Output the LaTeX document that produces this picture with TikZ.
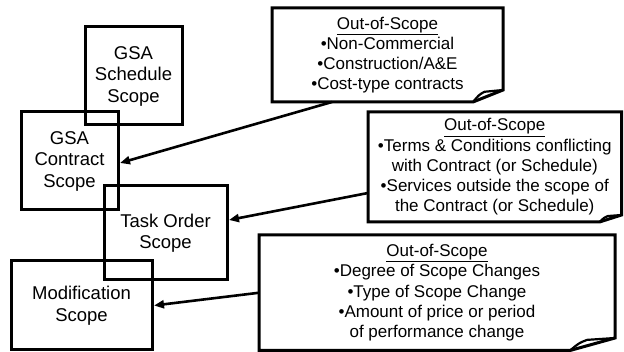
\documentclass[tikz,border=0pt]{standalone}
\usepackage{fontspec}
\setmainfont{Liberation Sans}
\usetikzlibrary{calc,arrows.meta}
\tikzset{
  scopebox/.style={draw, line width=3pt, inner sep=0pt, outer sep=0pt, align=center,
    font=\fontsize{18.5}{21.5}\selectfont},
  calloutbox/.style={inner sep=0pt, outer sep=0pt, align=center,
    font=\fontsize{17}{20.2}\selectfont},
  frame/.style={line width=3pt, line join=miter},
  flap/.style={line width=2.2pt},
  link/.style={line width=2.6pt, -{Triangle[length=10pt,width=8pt]}}
}
\newcommand\foldbox[3]{%
  \draw[frame] (#1.north west) -- (#1.north east) -- ($(#1.south east)+(0,-#3)$)
    -- ($(#1.south east)+(-#2,0)$) -- (#1.south west) -- cycle;
  \draw[flap] ($(#1.south east)+(-#2,0)$) .. controls ($(#1.south east)+({-0.8*#2},{-0.6*#3})$)
    .. ($(#1.south east)+({-0.62*#2},{-0.85*#3})$) -- ($(#1.south east)+(0,-#3)$);
}
\begin{document}
\begin{tikzpicture}[x=1pt,y=-1pt]
\useasboundingbox (0,0) rectangle (624,352);
% scope boxes
\node[scopebox, minimum width=97pt, minimum height=98pt] (sched) at (133.5,76) {GSA\\Schedule\\Scope};
\node[scopebox, minimum width=97pt, minimum height=98pt] (contract) at (69.5,161) {GSA\\Contract\\Scope};
\node[scopebox, minimum width=123pt, minimum height=94pt] (task) at (165.5,233) {Task Order\\Scope};
\node[scopebox, minimum width=141pt, minimum height=89pt] (modif) at (81.5,305.5) {Modification\\Scope};
% callouts
\node[calloutbox, minimum width=231pt, minimum height=94pt] (c1) at (387.5,55)
  {\underline{Out-of-Scope}\\•Non-Commercial\\•Construction/A\&E\\•Cost-type contracts};
\node[calloutbox, minimum width=253.5pt, minimum height=110pt] (c2) at (494.75,167)
  {\underline{Out-of-Scope}\\•Terms \& Conditions conflicting\\with Contract (or Schedule)\\•Services outside the scope of\\the Contract (or Schedule)};
\node[calloutbox, minimum width=356pt, minimum height=115.5pt] (c3) at (437,292.75)
  {\underline{Out-of-Scope}\\•Degree of Scope Changes\\•Type of Scope Change\\•Amount of price or period\\of performance change};
\foldbox{c1}{30}{12}
\foldbox{c2}{22}{7}
\foldbox{c3}{45}{12.5}
% connectors
\draw[link] ($(c1.south west)+(60,0)$) -- ($(contract.east)+(2,2)$);
\draw[link] ($(c2.west)+(0,26)$) -- ($(task.east)+(2,-13)$);
\draw[link] (c3.west) -- ($(modif.east)+(2,0)$);
\end{tikzpicture}
\end{document}
